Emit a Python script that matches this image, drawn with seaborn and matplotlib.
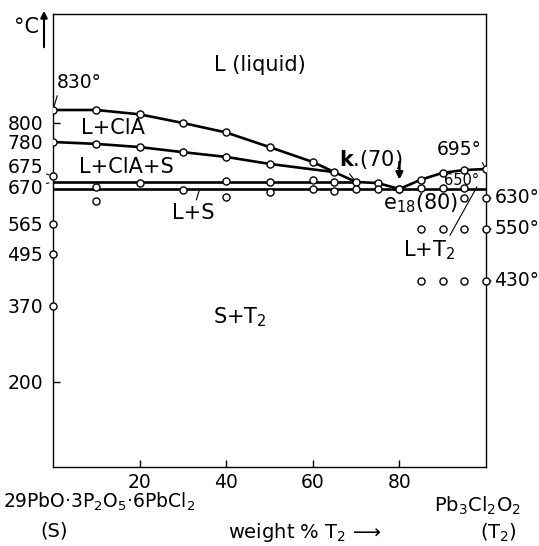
import numpy as np
import matplotlib
matplotlib.use("Agg")
import matplotlib.pyplot as plt
import seaborn as sns

# composition (weight % T2) and temperature (deg C)
liq_x = [0, 10, 20, 30, 40, 50, 60, 65, 70, 75, 80]
liq_t = [830, 830, 820, 800, 790, 764, 717, 686, 670, 667, 650]

cla_x = [0, 10, 20, 30, 40, 50, 65]
cla_t = [780, 774, 764, 748, 733, 711, 686]

liq2_x = [80, 85, 90, 95, 100]
liq2_t = [650, 672, 684, 692, 695]

per_line_x = [0, 70]
per_line_t = [670, 670]
per_x = [20, 40, 50, 60, 65]
per_t = [667, 671, 670, 672, 670]

eut_line_x = [0, 100]
eut_line_t = [650, 650]
eut_x = [10, 30, 50, 60, 65, 70, 75, 85, 90, 95]
eut_t = [656, 647, 643, 650, 645, 650, 650, 653, 653, 653]

# isolated experimental points
pts_x = [10, 40, 95, 85, 90, 95, 85, 90, 95, 0, 0, 0, 0, 100, 100, 100]
pts_t = [622, 632, 630, 550, 550, 550, 430, 430, 430, 675, 565, 495, 370, 630, 550, 430]

ytick_vals = [200, 370, 495, 565, 780, 800]
xtick_vals = [20, 40, 60, 80]
right_labels = [630, 550, 430]

# the original temperature axis is schematic (not to scale)
axis_t = [0, 200, 370, 430, 495, 550, 565, 630, 650, 670, 675, 695, 780, 800, 830, 1060]
axis_h = [0, 85, 161, 186, 213, 238, 243, 269, 278, 285, 291, 298, 325, 344, 357, 456]


def fwd(t):
    return np.interp(t, axis_t, axis_h)


def inv(h):
    return np.interp(h, axis_h, axis_t)


sns.set_style("ticks")
plt.rcParams['font.family'] = ['DejaVu Sans']
plt.rcParams['mathtext.fontset'] = 'dejavusans'
plt.rcParams['text.color'] = 'black'
plt.rcParams['xtick.color'] = 'black'
plt.rcParams['ytick.color'] = 'black'
plt.rcParams['axes.edgecolor'] = 'black'

W, H = 539, 546
fig = plt.figure(figsize=(W / 100, H / 100), dpi=100)
ax = fig.add_axes([53 / W, 1 - 467 / H, (486 - 53) / W, (467 - 14) / H])
ax.set_yscale('function', functions=(fwd, inv))

lw = 1.9
for xs, ts in [(liq_x, liq_t), (cla_x, cla_t), (liq2_x, liq2_t),
               (per_line_x, per_line_t), (eut_line_x, eut_line_t)]:
    sns.lineplot(x=xs, y=ts, ax=ax, color='black', lw=lw, sort=False, zorder=2)

mk = dict(marker='o', s=26, facecolor='white', edgecolor='black', linewidth=1.0, zorder=5, ax=ax)
sns.scatterplot(x=liq_x, y=liq_t, **mk)
sns.scatterplot(x=cla_x[:-1], y=cla_t[:-1], **mk)
sns.scatterplot(x=liq2_x, y=liq2_t, **mk)
sns.scatterplot(x=per_x, y=per_t, **mk)
sns.scatterplot(x=eut_x, y=eut_t, **mk)
sns.scatterplot(x=pts_x, y=pts_t, clip_on=False, **mk)

ax.set_xlim(0, 100)
ax.set_ylim(0, 1053)
for s in ax.spines.values():
    s.set_visible(True)
    s.set_linewidth(1.0)

fs = 13.5
ax.set_xticks(xtick_vals)
ax.set_xticklabels([str(v) for v in xtick_vals], fontsize=fs)
ax.set_yticks(ytick_vals)
ax.set_yticklabels([str(v) for v in ytick_vals], fontsize=fs)
ax.yaxis.set_minor_locator(matplotlib.ticker.NullLocator())
ax.tick_params(axis='x', direction='in', length=5, width=1, pad=4)
ax.tick_params(axis='y', direction='in', length=5, width=1, pad=7)
for t, v in zip(ax.yaxis.get_major_ticks(), ytick_vals):
    if v in (370, 495, 565, 780):
        t.tick1line.set_visible(False)
ax.set_xlabel('')
ax.set_ylabel('')

lead = dict(arrowstyle='-', lw=0.8, color='black', shrinkA=0, shrinkB=3)

# left side labels with leaders
ax.annotate('675', xy=(0, 675), xytext=(-7, 6), textcoords='offset points',
            ha='right', va='center', fontsize=fs, arrowprops=lead, annotation_clip=False)
ax.annotate('670', xy=(0, 670), xytext=(-7, -4.5), textcoords='offset points',
            ha='right', va='center', fontsize=fs, arrowprops=lead, annotation_clip=False)
ax.annotate('830°', xy=(0, 830), xytext=(6, 893), ha='center', va='center',
            fontsize=13.5, arrowprops=dict(lead, relpos=(0.05, 0.1)), annotation_clip=False)

# right side labels
for v in right_labels:
    ax.annotate(f'{v}°', xy=(100, v), xytext=(6, 0), textcoords='offset points',
                ha='left', va='center', fontsize=fs, arrowprops=lead, annotation_clip=False)
ax.annotate('695°', xy=(100, 695), xytext=(93.8, 755), ha='center', va='center',
            fontsize=fs, arrowprops=dict(lead, relpos=(0.95, 0.1)), annotation_clip=False)
ax.text(94.3, 671, '650°', ha='center', va='center', fontsize=10.5)

# region labels
ax.text(47.8, 935, 'L (liquid)', ha='center', va='center', fontsize=15)
ax.text(13.8, 795, 'L+ClA', ha='center', va='center', fontsize=15)
ax.text(17, 701, 'L+ClA+S', ha='center', va='center', fontsize=15)
ax.annotate('L+S', xy=(34, 656), xytext=(32.4, 592), ha='center', va='center',
            fontsize=15, arrowprops=dict(lead, relpos=(0.55, 1.0)))
ax.text(43.2, 345, 'S+T$_2$', ha='center', va='center', fontsize=15)
ax.annotate('L+T$_2$', xy=(98.4, 667), xytext=(86.9, 503), ha='center', va='center',
            fontsize=15, arrowprops=dict(lead, relpos=(0.85, 0.95)))
ax.annotate(r'$\mathbf{k}$.(70)', xy=(70, 670), xytext=(73.3, 726), ha='center', va='center',
            fontsize=15, arrowprops=dict(lead, relpos=(0.1, 0.1)))
ax.annotate('', xy=(80, 672), xytext=(80, 717),
            arrowprops=dict(arrowstyle='-|>', lw=1.8, color='black', shrinkA=0, shrinkB=0,
                            mutation_scale=10))
ax.text(85, 617, 'e$_{18}$(80)', ha='center', va='center', fontsize=15)

# y unit with arrow
fig.text(27 / W, 1 - 27 / H, '°C', ha='center', va='center', fontsize=15)
ax.annotate('', xy=(44 / W, 1 - 8 / H), xytext=(44 / W, 1 - 50 / H),
            xycoords='figure fraction', textcoords='figure fraction',
            arrowprops=dict(arrowstyle='-|>', lw=1.5, color='black', mutation_scale=10))

# bottom captions
fig.text(3 / W, 1 - 508 / H, '29PbO·3P$_2$O$_5$·6PbCl$_2$', ha='left', va='baseline', fontsize=13.5)
fig.text(54 / W, 1 - 531 / H, '(S)', ha='center', va='center', fontsize=14)
fig.text(477 / W, 1 - 512 / H, 'Pb$_3$Cl$_2$O$_2$', ha='center', va='baseline', fontsize=14)
fig.text(498 / W, 1 - 533 / H, '(T$_2$)', ha='center', va='center', fontsize=14)
fig.text(305 / W, 1 - 533 / H, 'weight % T$_2$ ⟶', ha='center', va='center', fontsize=14)

fig.savefig('out.png', dpi=100)
